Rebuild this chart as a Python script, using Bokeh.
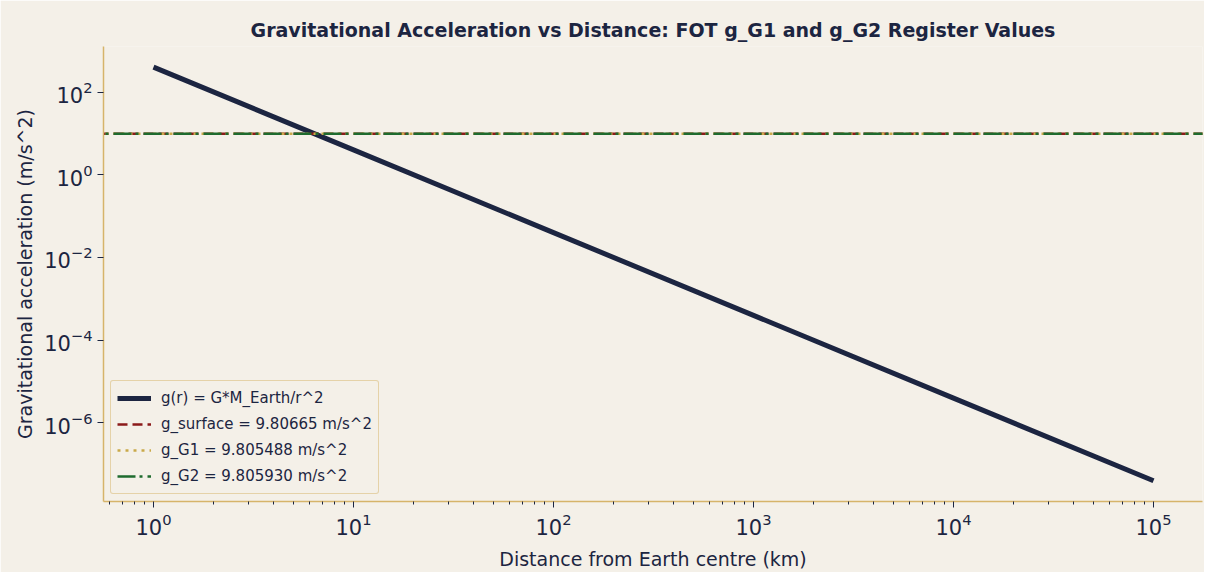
from bokeh.plotting import figure
from bokeh.models import Range1d, FixedTicker, Legend, LegendItem
from bokeh.embed import file_html
from bokeh.resources import INLINE

# Data
distance_km = [1, 10, 100, 1000, 10000, 100000]
g_r = [398.6, 3.986, 0.03986, 3.986e-4, 3.986e-6, 3.986e-8]
g_surface = 9.80665
g_G1 = 9.805488
g_G2 = 9.805930
x_major = [1, 10, 100, 1000, 10000, 100000]
y_major = [1e-6, 1e-4, 1e-2, 1, 1e2]

BG = "#f4f0e8"
NAVY = "#1c2541"
GOLD = "#d6b46a"
RED = "#8b1a1a"
YELL = "#c9a94a"
GREEN = "#1e6b2e"

p = figure(width=1204, height=572, x_axis_type="log", y_axis_type="log",
           output_backend="svg", toolbar_location=None,
           x_range=Range1d(10 ** -0.25, 10 ** 5.245),
           y_range=Range1d(10 ** -7.9, 10 ** 3.1),
           min_border_left=103, min_border_right=2, min_border_top=46, min_border_bottom=71,
           background_fill_color=BG, border_fill_color=BG)
p.outline_line_color = None
p.grid.visible = False

p.title.text = "Gravitational Acceleration vs Distance: FOT g_G1 and g_G2 Register Values"
p.title.align = "center"
p.title.text_font = "DejaVu Sans"
p.title.text_font_size = "19px"
p.title.text_font_style = "bold"
p.title.text_color = NAVY
p.title.offset = 0
p.title.standoff = 11

minor = [m * 10 ** d for d in range(-1, 6) for m in range(2, 10)]
p.xaxis.ticker = FixedTicker(ticks=x_major, minor_ticks=minor)
p.yaxis.ticker = FixedTicker(ticks=y_major, minor_ticks=[])

for ax in (p.xaxis[0], p.yaxis[0]):
    ax.axis_line_color = GOLD
    ax.axis_line_width = 1.5
    ax.major_tick_line_color = NAVY
    ax.minor_tick_line_color = NAVY
    ax.major_tick_in = 0
    ax.major_tick_out = 6
    ax.minor_tick_in = 0
    ax.minor_tick_out = 3
    ax.major_label_text_font = "DejaVu Sans"
    ax.major_label_text_font_size = "21px"
    ax.major_label_text_color = NAVY
    ax.axis_label_text_font = "DejaVu Sans"
    ax.axis_label_text_font_size = "19px"
    ax.axis_label_text_font_style = "normal"
    ax.axis_label_text_color = NAVY

p.xaxis.axis_label = "Distance from Earth centre (km)"
p.yaxis.axis_label = "Gravitational acceleration (m/s^2)"
p.xaxis.axis_label_standoff = 10

xs_full = [1e-2, 1e7]
r0 = p.line(distance_km, g_r, line_color=NAVY, line_width=5)
r1 = p.line(xs_full, [g_surface] * 2, line_color=RED, line_width=2.5, line_dash="10 5")
r2 = p.line(xs_full, [g_G1] * 2, line_color=YELL, line_width=2.5, line_dash="3 5")
r3 = p.line(xs_full, [g_G2] * 2, line_color=GREEN, line_width=2.5, line_dash="18 4 3 5")

legend = Legend(items=[
    LegendItem(label="g(r) = G*M_Earth/r^2", renderers=[r0]),
    LegendItem(label="g_surface = 9.80665 m/s^2", renderers=[r1]),
    LegendItem(label="g_G1 = 9.805488 m/s^2", renderers=[r2]),
    LegendItem(label="g_G2 = 9.805930 m/s^2", renderers=[r3]),
], location="bottom_left")
legend.label_text_font = "DejaVu Sans"
legend.label_text_font_size = "15px"
legend.label_text_color = NAVY
legend.background_fill_color = BG
legend.background_fill_alpha = 0.9
legend.border_line_color = GOLD
legend.border_line_width = 1.5
legend.border_radius = 3
legend.glyph_width = 34
legend.glyph_height = 22
legend.label_height = 22
legend.spacing = 4
legend.padding = 6
legend.margin = 7
legend.label_standoff = 10
p.add_layout(legend)

open("out.html", "w").write(file_html(p, INLINE))
